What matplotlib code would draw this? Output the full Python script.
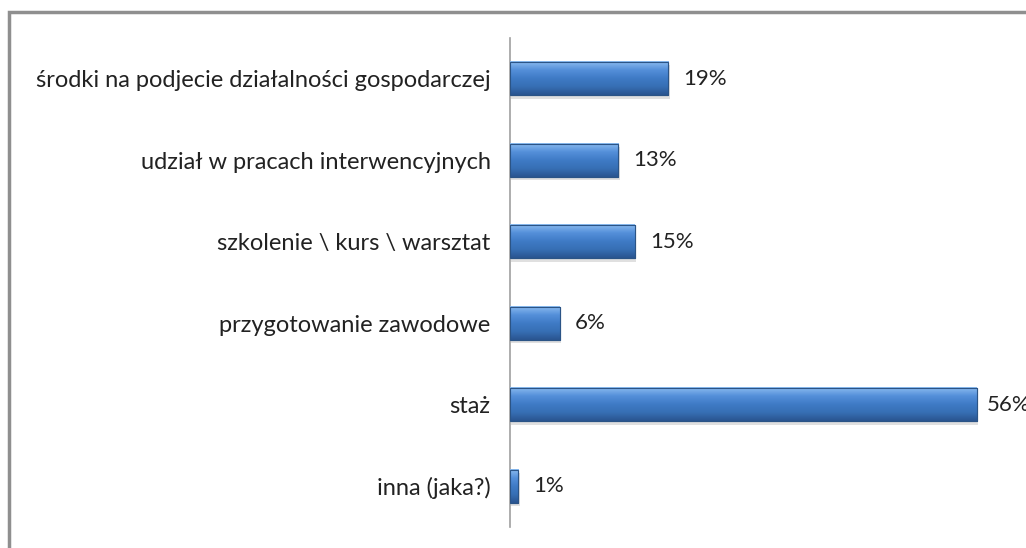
import numpy as np
import matplotlib.pyplot as plt
from matplotlib.colors import LinearSegmentedColormap
from matplotlib.patches import Rectangle

categories = [
    "środki na podjecie działalności gospodarczej",
    "udział w pracach interwencyjnych",
    "szkolenie \\ kurs \\ warsztat",
    "przygotowanie zawodowe",
    "staż",
    "inna (jaka?)",
]
values = [19, 13, 15, 6, 56, 1]
labels = ["19%", "13%", "15%", "6%", "56%", "1%"]

plt.rcParams["font.family"] = ["Lato", "DejaVu Sans"]

fig = plt.figure(figsize=(10.26, 5.48), dpi=100)
fig.patch.set_facecolor("white")

# gray outer frame (runs off the right and bottom edges)
fig.add_artist(Rectangle((9 / 1026, -0.05), 1.1, 1 - 12 / 548 + 0.05,
                         transform=fig.transFigure, fill=False,
                         edgecolor="#8f8f8f", linewidth=2.5))

ax = fig.add_axes([510 / 1026, 21 / 548, 500 / 1026, 489 / 548])
y = np.arange(len(categories))
bars = ax.barh(y, values, height=0.41, color="#3a72b8",
               edgecolor="#2b5486", linewidth=0.8, zorder=2)

cmap = LinearSegmentedColormap.from_list(
    "bev", ["#8cbcf0", "#5590da", "#3f7bc6", "#376fb5", "#2a5590"])
grad = np.linspace(0, 1, 64).reshape(-1, 1)
for b in bars:
    x0, y0, w, h = b.get_x(), b.get_y(), b.get_width(), b.get_height()
    # soft shadow under the bar
    ax.add_patch(Rectangle((x0 + 0.15, y0 + 0.04), w, h, facecolor="#000000",
                           alpha=0.12, linewidth=0, zorder=1))
    ax.imshow(grad, cmap=cmap, aspect="auto", extent=(x0, x0 + w, y0 + h, y0),
              zorder=3, interpolation="bicubic")
    ax.add_patch(Rectangle((x0, y0), w, h, fill=False, edgecolor="#2b5486",
                           linewidth=0.8, zorder=4))

for yi, v, lab in zip(y, values, labels):
    # the widest bar's label sits a bit closer, as in the original
    off = 1.2 if v == max(values) else 1.8
    ax.text(v + off, yi, lab, va="center", ha="left", fontsize=16,
            color="#222222")

ax.set_xlim(0, 60)
ax.set_ylim(len(categories) - 0.5, -0.5)
ax.set_yticks(y)
ax.set_yticklabels(categories, fontsize=17, color="#222222")
ax.tick_params(axis="y", length=0, pad=14)
ax.set_xticks([])
for s in ["top", "right", "bottom"]:
    ax.spines[s].set_visible(False)
ax.spines["left"].set_color("#a0a0a0")
ax.spines["left"].set_linewidth(1.2)
ax.set_facecolor("none")

fig.savefig("out.png", dpi=100)
